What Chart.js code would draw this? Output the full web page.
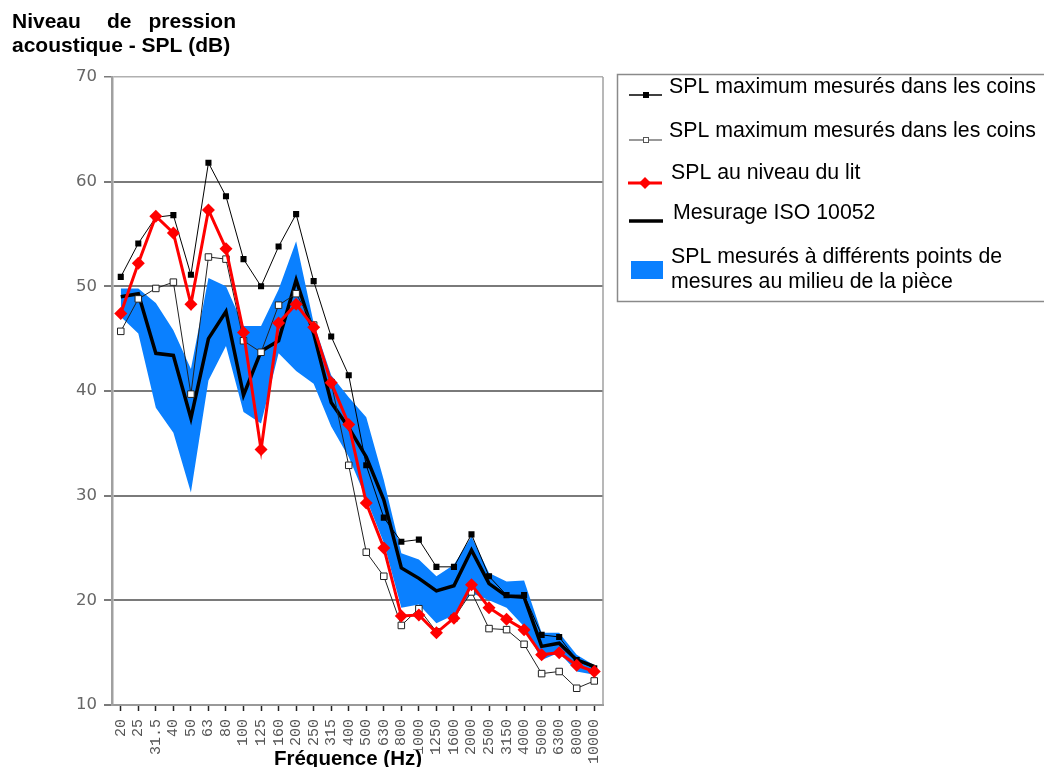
<!DOCTYPE html>
<html>
<head>
<meta charset="utf-8">
<script src="https://cdn.jsdelivr.net/npm/chart.js@4"></script>
<style>
  html, body { margin: 0; padding: 0; background: #fff; }
  #wrap { width: 1044px; height: 767px; position: relative; }
</style>
</head>
<body>
<div id="wrap"><canvas id="c" width="1044" height="767"></canvas></div>
<script>
// frequences (Hz)
var frequences = ['20', '25', '31.5', '40', '50', '63', '80', '100', '125', '160', '200', '250',
    '315', '400', '500', '630', '800', '1000', '1250', '1600', '2000', '2500', '3150', '4000',
    '5000', '6300', '8000', '10000'];

// SPL maximum mesurés dans les coins (carrés pleins)
var coinsPleins = [50.9, 54.1, 56.6, 56.8, 51.1, 61.8, 58.6, 52.6, 50.0, 53.8, 56.9, 50.5,
    45.2, 41.5, 32.9, 27.9, 25.6, 25.8, 23.2, 23.2, 26.3, 22.3, 20.5, 20.5, 16.7, 16.5, 14.3, 13.5];

// SPL maximum mesurés dans les coins (carrés vides)
var coinsVides = [45.7, 48.8, 49.8, 50.4, 39.7, 52.8, 52.6, 44.8, 43.7, 48.2, 49.3, 46.3,
    40.8, 32.9, 24.6, 22.3, 17.6, 19.2, 17.0, 18.3, 20.8, 17.3, 17.2, 15.8, 13.0, 13.2, 11.6, 12.3];

// SPL au niveau du lit
var niveauLit = [47.4, 52.2, 56.7, 55.1, 48.3, 57.3, 53.6, 45.6, 34.4, 46.5, 48.3, 46.1,
    40.8, 36.8, 29.3, 25.0, 18.5, 18.6, 16.9, 18.3, 21.5, 19.3, 18.2, 17.2, 14.8, 15.0, 13.8, 13.2];

// Mesurage ISO 10052
var iso10052 = [49.0, 49.3, 43.6, 43.4, 37.4, 45.0, 47.6, 39.6, 43.8, 44.8, 50.6, 45.5,
    38.9, 36.5, 33.7, 29.6, 23.1, 22.1, 20.9, 21.4, 24.8, 21.6, 20.4, 20.3, 15.6, 15.9, 14.3, 13.7];

// bande : SPL mesurés au milieu de la pièce (max / min)
var milieuMax = [49.8, 49.8, 48.4, 45.8, 42.1, 50.8, 50.0, 46.2, 46.2, 49.7, 54.3, 46.5,
    41.5, 39.4, 37.5, 31.5, 24.5, 23.9, 22.3, 23.4, 26.1, 22.6, 21.8, 21.9, 16.9, 16.9, 14.8, 13.8];
var milieuMin = [47.1, 45.5, 38.4, 36.0, 30.3, 41.0, 44.3, 38.0, 36.9, 43.6, 41.9, 40.7,
    36.6, 33.7, 29.7, 25.5, 19.3, 19.6, 17.8, 18.6, 20.7, 20.0, 19.3, 17.5, 14.3, 15.0, 13.2, 12.9];

var yTicks = [10, 20, 30, 40, 50, 60, 70];

var BLEU = '#0a80ff';

var decor = {
    id: 'decor',
    afterDraw: function(chart) {
        var ctx = chart.ctx, a = chart.chartArea;
        ctx.save();

        // bord droit de la zone de tracé
        ctx.strokeStyle = '#a0a0a0';
        ctx.lineWidth = 1.5;
        ctx.beginPath();
        ctx.moveTo(a.right, a.top);
        ctx.lineTo(a.right, a.bottom);
        ctx.stroke();

        // titre de l'axe y
        ctx.fillStyle = '#000';
        ctx.font = 'bold 21px "Liberation Sans", Arial, sans-serif';
        ctx.textBaseline = 'alphabetic';
        ctx.textAlign = 'left';
        ctx.fillText('Niveau', 12, 28);
        ctx.fillText('de', 107, 28);
        ctx.textAlign = 'right';
        ctx.fillText('pression', 236, 28);
        ctx.textAlign = 'left';
        ctx.fillText('acoustique - SPL (dB)', 12, 52);

        // titre de l'axe x
        ctx.font = 'bold 20.5px "Liberation Sans", Arial, sans-serif';
        var t = 'Fréquence (Hz)';
        var w = ctx.measureText(t).width;
        ctx.fillStyle = '#fff';
        ctx.fillRect(348 - w / 2, 750, w, 17);
        ctx.fillStyle = '#000';
        ctx.textAlign = 'center';
        ctx.fillText(t, 348, 765);

        // légende
        ctx.strokeStyle = '#8a8a8a';
        ctx.lineWidth = 1.5;
        ctx.strokeRect(617.5, 74.5, 520, 227);

        ctx.font = '21.3px "Liberation Sans", Arial, sans-serif';
        ctx.textAlign = 'left';
        ctx.textBaseline = 'middle';
        ctx.fillStyle = '#000';

        // 1
        ctx.strokeStyle = '#000';
        ctx.lineWidth = 1.5;
        ctx.beginPath(); ctx.moveTo(629, 95); ctx.lineTo(662, 95); ctx.stroke();
        ctx.fillRect(643, 92, 6, 6);
        ctx.fillText('SPL maximum mesurés dans les coins', 669, 87);

        // 2
        ctx.strokeStyle = '#999';
        ctx.lineWidth = 2;
        ctx.beginPath(); ctx.moveTo(629, 140); ctx.lineTo(662, 140); ctx.stroke();
        ctx.fillStyle = '#fff';
        ctx.fillRect(643, 137, 5, 5);
        ctx.strokeStyle = '#555';
        ctx.lineWidth = 1;
        ctx.strokeRect(643.5, 137.5, 5, 5);
        ctx.fillStyle = '#000';
        ctx.fillText('SPL maximum mesurés dans les coins', 669, 131);

        // 3
        ctx.strokeStyle = '#ff0000';
        ctx.lineWidth = 3;
        ctx.beginPath(); ctx.moveTo(628, 183); ctx.lineTo(662, 183); ctx.stroke();
        ctx.fillStyle = '#ff0000';
        ctx.beginPath();
        ctx.moveTo(645, 177); ctx.lineTo(651, 183); ctx.lineTo(645, 189); ctx.lineTo(639, 183);
        ctx.closePath(); ctx.fill();
        ctx.fillStyle = '#000';
        ctx.fillText('SPL au niveau du lit', 671, 173);

        // 4
        ctx.strokeStyle = '#000';
        ctx.lineWidth = 3.5;
        ctx.beginPath(); ctx.moveTo(629, 221); ctx.lineTo(663, 221); ctx.stroke();
        ctx.fillText('Mesurage ISO 10052', 673, 213);

        // 5
        ctx.fillStyle = BLEU;
        ctx.fillRect(631, 261, 32, 18);
        ctx.fillStyle = '#000';
        ctx.fillText('SPL mesurés à différents points de', 671, 257);
        ctx.fillText('mesures au milieu de la pièce', 671, 282);

        ctx.restore();
    }
};

var options = {
    type: 'line',
    data: {
        labels: frequences,
        datasets: [
            {
                label: 'SPL au niveau du lit',
                data: niveauLit,
                borderColor: '#ff0000',
                backgroundColor: '#ff0000',
                borderWidth: 3,
                pointStyle: 'rectRot',
                pointRadius: 6.5,
                pointBorderWidth: 0,
                fill: false
            },
            {
                label: 'SPL maximum mesurés dans les coins',
                data: coinsPleins,
                borderColor: '#000',
                backgroundColor: '#000',
                borderWidth: 1,
                pointStyle: 'rect',
                pointRadius: 4.3,
                pointBorderWidth: 0,
                fill: false
            },
            {
                label: 'SPL maximum mesurés dans les coins',
                data: coinsVides,
                borderColor: '#222',
                backgroundColor: '#fff',
                borderWidth: 1,
                pointStyle: 'rect',
                pointRadius: 4.6,
                pointBorderColor: '#222',
                pointBorderWidth: 1,
                fill: false
            },
            {
                label: 'Mesurage ISO 10052',
                data: iso10052,
                borderColor: '#000',
                borderWidth: 3.5,
                pointRadius: 0,
                fill: false
            },
            {
                label: 'SPL mesurés à différents points de mesures au milieu de la pièce',
                data: milieuMax,
                borderColor: 'rgba(0,0,0,0)',
                backgroundColor: BLEU,
                borderWidth: 0,
                pointRadius: 0,
                fill: '+1'
            },
            {
                label: 'min',
                data: milieuMin,
                borderColor: 'rgba(0,0,0,0)',
                borderWidth: 0,
                pointRadius: 0,
                fill: false
            }
        ]
    },
    options: {
        responsive: false,
        animation: false,
        layout: {
            padding: { left: 0, top: 77, right: 441, bottom: 0 }
        },
        elements: { line: { tension: 0 } },
        plugins: {
            legend: { display: false },
            tooltip: { enabled: false }
        },
        scales: {
            x: {
                type: 'category',
                offset: true,
                grid: {
                    display: true,
                    drawOnChartArea: false,
                    drawTicks: true,
                    tickLength: 6,
                    tickColor: '#222',
                    tickWidth: 1.5
                },
                border: { display: true, color: '#999', width: 2 },
                ticks: {
                    autoSkip: false,
                    maxRotation: 90,
                    minRotation: 90,
                    padding: 8,
                    color: '#555',
                    font: { family: '"Liberation Mono", "DejaVu Sans Mono", monospace', size: 15 }
                },
                afterFit: function(scale) { scale.height = 62; }
            },
            y: {
                min: 10,
                max: 70,
                afterBuildTicks: function(scale) {
                    scale.ticks = yTicks.map(function(v) { return { value: v }; });
                },
                grid: {
                    color: function(c) { return c.tick && c.tick.value == 70 ? '#b0b0b0' : '#7a7a7a'; },
                    lineWidth: function(c) { return c.tick && c.tick.value == 70 ? 1.5 : 2; },
                    tickLength: 8,
                    tickColor: '#7a7a7a'
                },
                border: { display: true, color: '#a0a0a0', width: 2.5 },
                ticks: {
                    padding: 7,
                    color: '#666',
                    font: { family: '"DejaVu Sans", Verdana, sans-serif', size: 16.5 }
                },
                afterFit: function(scale) { scale.width = 112; }
            }
        }
    },
    plugins: [decor]
};

var chart = new Chart(document.getElementById('c').getContext('2d'), options);
</script>
</body>
</html>
